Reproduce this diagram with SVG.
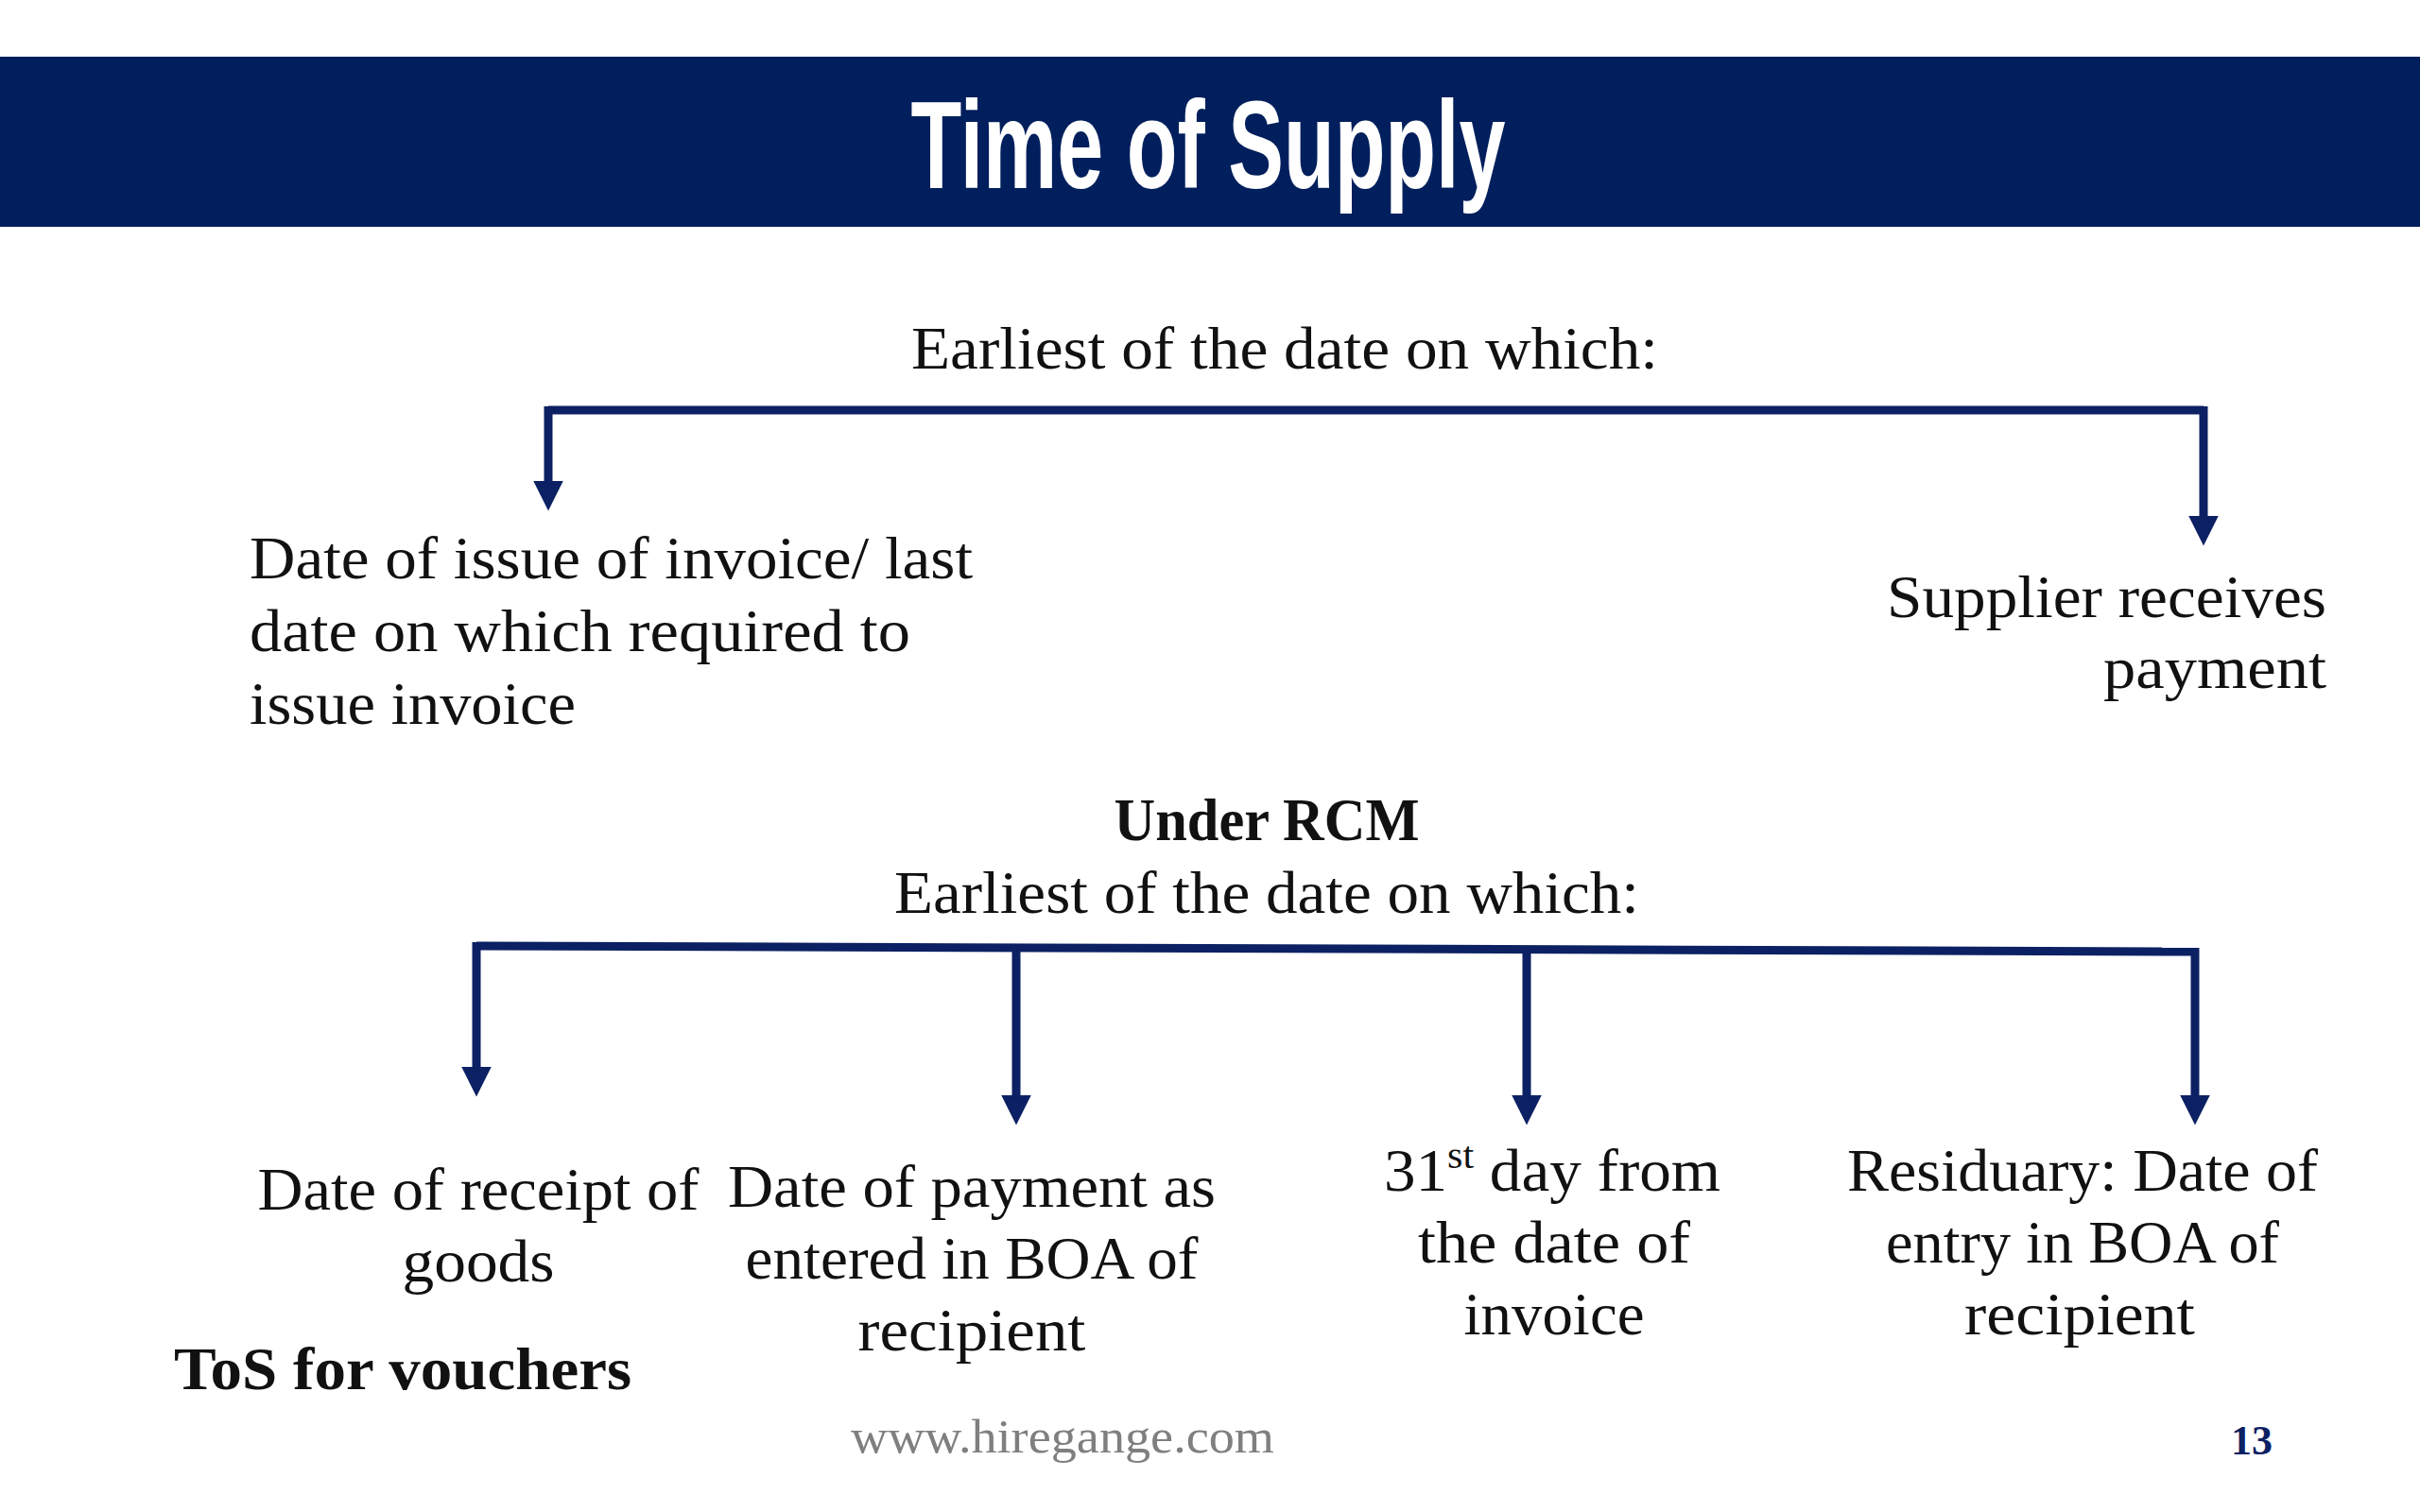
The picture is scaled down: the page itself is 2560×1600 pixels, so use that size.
<svg xmlns="http://www.w3.org/2000/svg" width="2560" height="1600" viewBox="0 0 2560 1600">
<style>
.t{font-family:"Liberation Serif",serif;font-size:64px;fill:#111}
.b{font-weight:bold}
.c{text-anchor:middle}
.r{text-anchor:end}
.ln{stroke:#0c2163;stroke-width:9;fill:none}
</style>
<defs>
<marker id="ah" viewBox="0 0 10 10" refX="0" refY="5" markerWidth="3.5" markerHeight="3.5" markerUnits="strokeWidth" orient="auto">
<path d="M0,0 L10,5 L0,10 Z" fill="#0c2163"/>
</marker>
</defs>
<rect width="2560" height="1600" fill="#fff"/>
<g id="header">
<rect x="0" y="60" width="2560" height="180" fill="#001f5c"/>
<text x="1278" y="199" text-anchor="middle" font-family="Liberation Sans,sans-serif" font-weight="bold" font-size="132" fill="#fff" textLength="629" lengthAdjust="spacingAndGlyphs">Time of Supply</text>
</g>
<g id="connectors">
<path class="ln" d="M580,434 H2331"/>
<path class="ln" d="M580,430 V509" marker-end="url(#ah)"/>
<path class="ln" d="M2331,430 V546" marker-end="url(#ah)"/>
<path class="ln" d="M504,1001 L2322,1007"/>
<path class="ln" d="M504,997 V1129" marker-end="url(#ah)"/>
<path class="ln" d="M1075,1003 V1159" marker-end="url(#ah)"/>
<path class="ln" d="M1615,1005 V1159" marker-end="url(#ah)"/>
<path class="ln" d="M2322,1003 V1159" marker-end="url(#ah)"/>
</g>
<g id="root1">
<text class="t c" x="1359" y="390" textLength="790" lengthAdjust="spacingAndGlyphs">Earliest of the date on which:</text>
</g>
<g id="node-invoice">
<text class="t" x="264" y="612" textLength="765" lengthAdjust="spacingAndGlyphs">Date of issue of invoice/ last</text>
<text class="t" x="264" y="689" textLength="699" lengthAdjust="spacingAndGlyphs">date on which required to</text>
<text class="t" x="264" y="766" textLength="345" lengthAdjust="spacingAndGlyphs">issue invoice</text>
</g>
<g id="node-payment">
<text class="t r" x="2461" y="653" textLength="465" lengthAdjust="spacingAndGlyphs">Supplier receives</text>
<text class="t r" x="2461" y="728" textLength="236" lengthAdjust="spacingAndGlyphs">payment</text>
</g>
<g id="root2">
<text class="t b c" x="1340" y="889" textLength="323" lengthAdjust="spacingAndGlyphs">Under RCM</text>
<text class="t c" x="1340" y="966" textLength="788" lengthAdjust="spacingAndGlyphs">Earliest of the date on which:</text>
</g>
<g id="node-receipt">
<text class="t c" x="506" y="1280" textLength="467" lengthAdjust="spacingAndGlyphs">Date of receipt of</text>
<text class="t c" x="506" y="1356" textLength="161" lengthAdjust="spacingAndGlyphs">goods</text>
</g>
<g id="node-paymentboa">
<text class="t c" x="1028" y="1277" textLength="516" lengthAdjust="spacingAndGlyphs">Date of payment as</text>
<text class="t c" x="1028" y="1353" textLength="479" lengthAdjust="spacingAndGlyphs">entered in BOA of</text>
<text class="t c" x="1028" y="1429" textLength="241" lengthAdjust="spacingAndGlyphs">recipient</text>
</g>
<g id="node-31st">
<text class="t c" x="1642" y="1260" textLength="356" lengthAdjust="spacingAndGlyphs">31<tspan font-size="40" dy="-24">st</tspan><tspan dy="24"> day from</tspan></text>
<text class="t c" x="1644" y="1336" textLength="288" lengthAdjust="spacingAndGlyphs">the date of</text>
<text class="t c" x="1644" y="1412" textLength="191" lengthAdjust="spacingAndGlyphs">invoice</text>
</g>
<g id="node-residuary">
<text class="t c" x="2203" y="1260" textLength="498" lengthAdjust="spacingAndGlyphs">Residuary: Date of</text>
<text class="t c" x="2203" y="1336" textLength="416" lengthAdjust="spacingAndGlyphs">entry in BOA of</text>
<text class="t c" x="2200" y="1412" textLength="244" lengthAdjust="spacingAndGlyphs">recipient</text>
</g>
<g id="vouchers">
<text class="t b" x="184" y="1470" textLength="484" lengthAdjust="spacingAndGlyphs">ToS for vouchers</text>
</g>
<g id="footer">
<text x="900" y="1537" font-family="Liberation Serif,serif" font-size="50" fill="#7f7f7f" textLength="448" lengthAdjust="spacingAndGlyphs">www.hiregange.com</text>
<text x="2382" y="1539" text-anchor="middle" font-family="Liberation Serif,serif" font-weight="bold" font-size="44" fill="#0c2163">13</text>
</g>
</svg>
